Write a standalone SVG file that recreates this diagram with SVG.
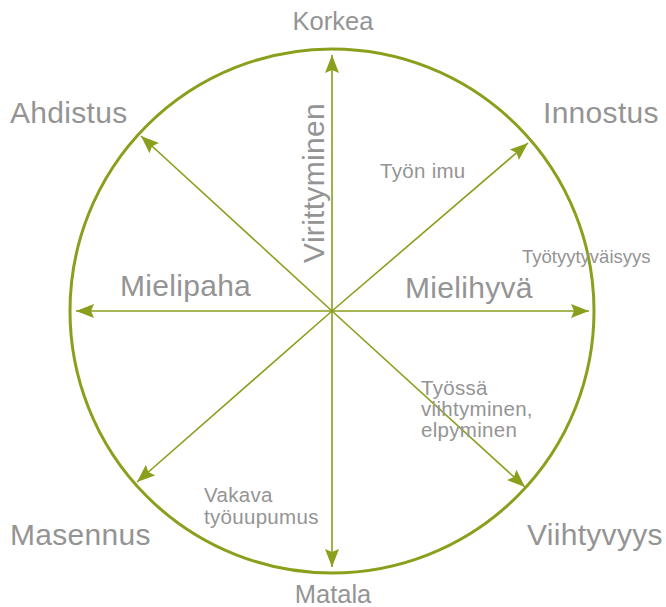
<svg xmlns="http://www.w3.org/2000/svg" width="666" height="607" viewBox="0 0 666 607">
<style>
.t{font-family:"Liberation Sans",Arial,sans-serif;fill:#949494}
.big{font-size:30px;letter-spacing:0.3px}
.mid{font-size:25.5px}
.sm{font-size:20.5px;letter-spacing:0.3px}
.ax{stroke:#8a9f1c;stroke-width:1.6;fill:none;marker-end:url(#ah)}
</style>
<defs>
<marker id="ah" markerUnits="userSpaceOnUse" markerWidth="20" markerHeight="16" viewBox="0 0 20 16" refX="18" refY="8" orient="auto">
<path d="M0,1 L18,8 L0,15 L3,8 Z" fill="#8a9f1c"/>
</marker>
</defs>
<g id="circle"><circle cx="332" cy="311" r="262" fill="none" stroke="#8a9f1c" stroke-width="3"/></g>
<g id="connectors">
<line class="ax" x1="332" y1="311" x2="332" y2="55"/>
<line class="ax" x1="332" y1="311" x2="332" y2="567"/>
<line class="ax" x1="332" y1="311" x2="76" y2="311"/>
<line class="ax" x1="332" y1="311" x2="589" y2="311"/>
<line class="ax" x1="332" y1="311" x2="141" y2="136"/>
<line class="ax" x1="332" y1="311" x2="528" y2="143"/>
<line class="ax" x1="332" y1="311" x2="525" y2="487"/>
<line class="ax" x1="332" y1="311" x2="137" y2="482"/>
</g>
<g id="korkea"><text class="t mid" x="333" y="30" text-anchor="middle">Korkea</text></g>
<g id="matala"><text class="t mid" x="333" y="603" text-anchor="middle">Matala</text></g>
<g id="ahdistus"><text class="t big" x="10" y="123">Ahdistus</text></g>
<g id="innostus"><text class="t big" x="543" y="123">Innostus</text></g>
<g id="mielipaha"><text class="t big" x="120" y="296">Mielipaha</text></g>
<g id="mielihyva"><text class="t big" x="405" y="298">Mielihyvä</text></g>
<g id="masennus"><text class="t big" x="10" y="545">Masennus</text></g>
<g id="viihtyvyys"><text class="t big" x="527" y="545">Viihtyvyys</text></g>
<g id="virittyminen"><text class="t big" transform="translate(324,183) rotate(-90)" text-anchor="middle">Virittyminen</text></g>
<g id="tyon-imu"><text class="t sm" x="380" y="178">Työn imu</text></g>
<g id="tyotyytyvaisyys"><text class="t" style="font-size:18.5px" x="522" y="263">Työtyytyväisyys</text></g>
<g id="tyossa"><text class="t sm" x="421" y="395">Työssä<tspan x="421" y="416">viihtyminen,</tspan><tspan x="421" y="437">elpyminen</tspan></text></g>
<g id="vakava"><text class="t sm" x="204" y="502">Vakava<tspan x="204" y="524">työuupumus</tspan></text></g>
</svg>
